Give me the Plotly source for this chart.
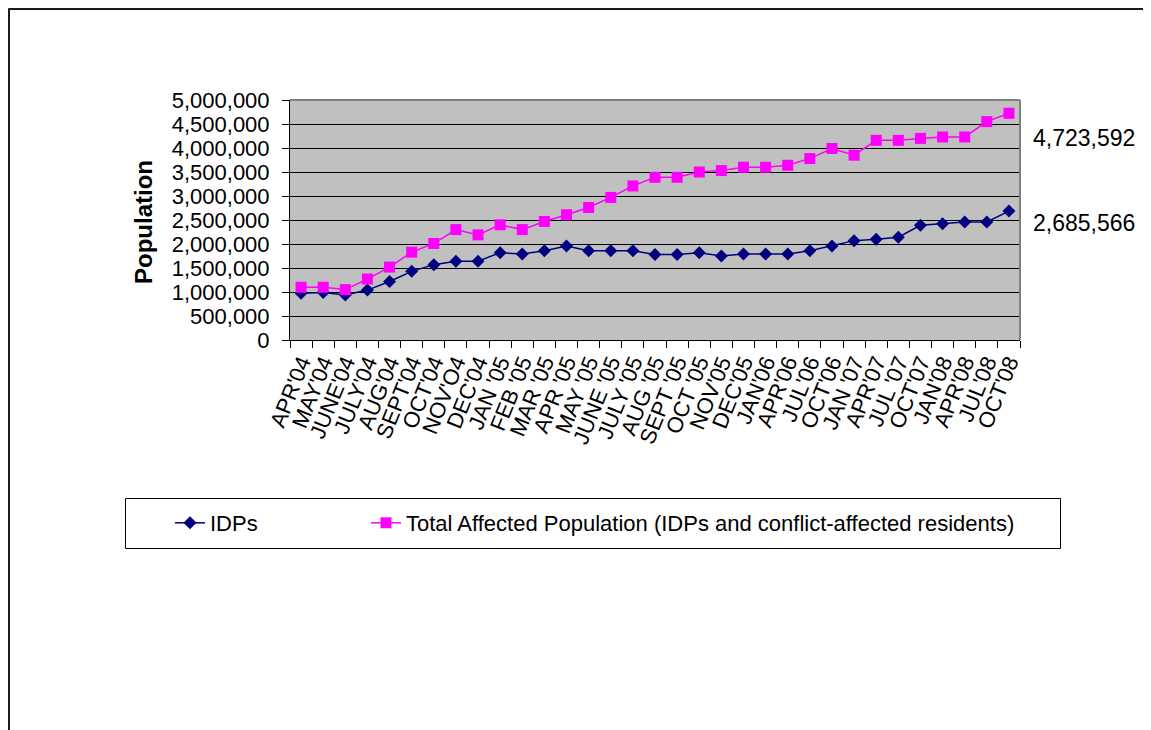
import plotly.graph_objects as go

categories = ["APR'04", "MAY'04", "JUNE'04", "JULY'04", "AUG'04", "SEPT'04", "OCT'04",
              "NOV'O4", "DEC'04", "JAN '05", "FEB '05", "MAR '05", "APR '05", "MAY '05",
              "JUNE '05", "JULY '05", "AUG '05", "SEPT '05", "OCT '05", "NOV'05", "DEC'05",
              "JAN'06", "APR'06", "JUL'06", "OCT'06", "JAN '07", "APR'07", "JUL '07",
              "OCT'07", "JAN'08", "APR'08", "JUL'08", "OCT'08"]

idps = [975000, 990000, 940000, 1040000, 1220000, 1430000, 1570000, 1640000, 1640000,
        1820000, 1790000, 1860000, 1960000, 1860000, 1860000, 1860000, 1780000, 1780000,
        1820000, 1750000, 1790000, 1790000, 1790000, 1860000, 1960000, 2070000, 2100000,
        2140000, 2390000, 2420000, 2460000, 2460000, 2685566]

total = [1100000, 1100000, 1050000, 1270000, 1520000, 1830000, 2010000, 2300000, 2190000,
         2400000, 2300000, 2470000, 2610000, 2760000, 2970000, 3210000, 3390000, 3390000,
         3500000, 3530000, 3600000, 3600000, 3640000, 3780000, 3990000, 3850000, 4160000,
         4160000, 4200000, 4230000, 4230000, 4550000, 4723592]

FONT = "Liberation Sans, Arial, sans-serif"

# page body has an 8px margin: screen pixel = figure pixel + OFF
OFF = 8
W, H = 1151 - OFF, 730 - OFF
L, T = 290 - OFF, 100 - OFF
pw, ph = 730, 240
R, B = W - L - pw, H - T - ph


def px(x):
    return (x - OFF - L) / pw


def py(y):
    return (T + ph - (y - OFF)) / ph


fig = go.Figure()
fig.add_trace(go.Scatter(
    x=categories, y=idps, name="IDPs", mode="lines+markers",
    line=dict(color="#000080", width=1.5),
    marker=dict(symbol="diamond", size=10, color="#000080"),
    legend="legend",
))
fig.add_trace(go.Scatter(
    x=categories, y=total,
    name="Total Affected Population (IDPs and conflict-affected residents)",
    mode="lines+markers",
    line=dict(color="#FF00FF", width=1.5),
    marker=dict(symbol="square", size=11, color="#FF00FF"),
    legend="legend2",
))

leg_common = dict(
    orientation="h", yanchor="middle", xanchor="left",
    bgcolor="rgba(0,0,0,0)", borderwidth=0,
    font=dict(family=FONT, size=22, color="black"),
)

fig.update_layout(
    width=W, height=H,
    margin=dict(l=L, r=R, t=T, b=B),
    paper_bgcolor="white",
    plot_bgcolor="#C0C0C0",
    font=dict(family=FONT, size=22, color="black"),
    showlegend=True,
    legend=dict(x=px(170), y=py(523), **leg_common),
    legend2=dict(x=px(366), y=py(523), **leg_common),
    xaxis=dict(
        type="category", tickmode="array", tickvals=categories, ticktext=categories,
        range=[-0.5, len(categories) - 0.5], autorange=False,
        showgrid=False, showline=True, linecolor="black", linewidth=1,
        ticks="outside", ticklen=7, tickcolor="black", tickson="boundaries",
        tickangle=-68, tickfont=dict(family=FONT, size=22, color="black"),
        zeroline=False,
    ),
    yaxis=dict(
        range=[0, 5000000], dtick=500000, tickformat=",", showgrid=True,
        gridcolor="black", gridwidth=1, showline=True, linecolor="black", linewidth=1,
        ticks="outside", ticklen=7, tickcolor="black", zeroline=False,
        ticklabelstandoff=8,
        tickfont=dict(family=FONT, size=22, color="black"),
    ),
    shapes=[
        dict(type="line", xref="paper", yref="paper", x0=0, x1=1, y0=1, y1=1,
             line=dict(color="#808080", width=2), layer="above"),
        dict(type="line", xref="paper", yref="paper", x0=1, x1=1, y0=0, y1=1,
             line=dict(color="#808080", width=2), layer="above"),
        dict(type="line", xref="paper", yref="paper", x0=px(8.5), x1=px(1170),
             y0=py(9), y1=py(9), line=dict(color="#1a1a1a", width=2)),
        dict(type="line", xref="paper", yref="paper", x0=px(9), x1=px(9),
             y0=py(8.5), y1=py(760), line=dict(color="#1a1a1a", width=2)),
        dict(type="rect", xref="paper", yref="paper", x0=px(125.5), x1=px(1060.5),
             y0=py(498.5), y1=py(548.5), line=dict(color="black", width=1),
             fillcolor="rgba(0,0,0,0)"),
    ],
    annotations=[
        dict(text="<b>Population</b>", xref="paper", yref="paper", x=px(143), y=py(222),
             textangle=-90, showarrow=False, xanchor="center", yanchor="middle",
             font=dict(family=FONT, size=24, color="black")),
        dict(text=f"{total[-1]:,}", xref="paper", yref="paper", x=px(1031), y=py(138),
             xanchor="left", yanchor="middle", showarrow=False,
             font=dict(family=FONT, size=23, color="black")),
        dict(text=f"{idps[-1]:,}", xref="paper", yref="paper", x=px(1031), y=py(223),
             xanchor="left", yanchor="middle", showarrow=False,
             font=dict(family=FONT, size=23, color="black")),
    ],
)

fig.write_html("out.html")
